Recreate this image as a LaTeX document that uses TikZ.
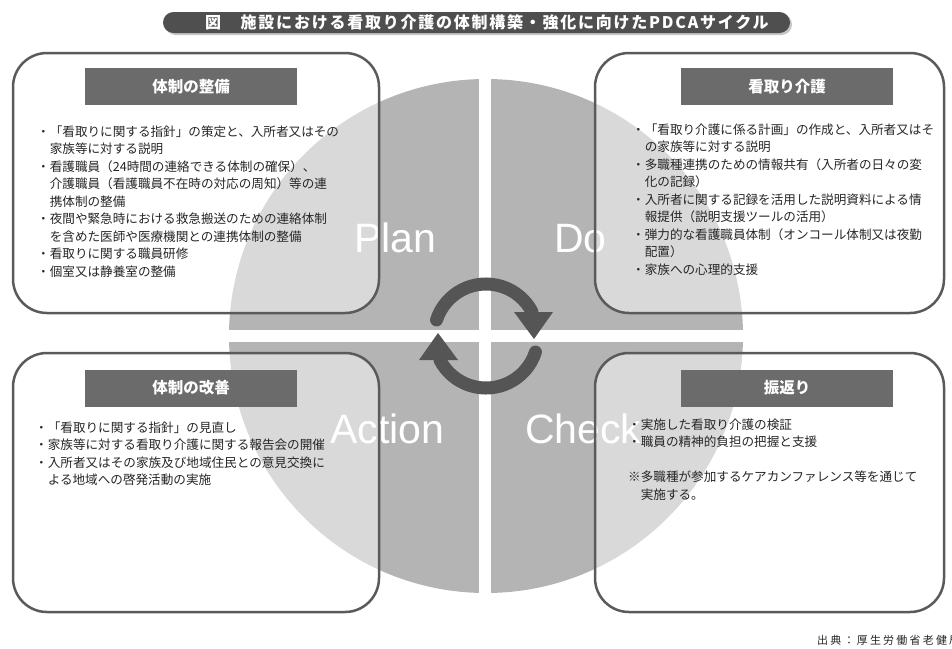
\documentclass[tikz,border=0pt]{standalone}
\usepackage{fontspec}
\usetikzlibrary{calc}
\setmainfont{Liberation Sans}
\newfontfamily\jp{Noto Sans CJK JP}
\newfontfamily\jptitle[LetterSpace=11]{Noto Sans CJK JP}
\newfontfamily\jpsrc[LetterSpace=20]{Noto Sans CJK JP}
\definecolor{circfill}{HTML}{B4B4B4}
\definecolor{boxline}{HTML}{5A5A5A}
\definecolor{headfill}{HTML}{6B6B6B}
\definecolor{arrowc}{HTML}{555555}
\definecolor{titlefill}{HTML}{4F4F4F}
\definecolor{bodytext}{HTML}{262626}
\tikzset{
  boxshape/.style={draw=boxline, line width=2.5pt, fill=white, fill opacity=0.5, rounded corners=34pt},
  header/.style={fill=headfill, text=white, font=\jp\bfseries\fontsize{15.5}{15.5}\selectfont, minimum width=212pt, minimum height=37pt, inner sep=0pt},
  body/.style={font=\jp\fontsize{12.6}{17.5}\selectfont, text=bodytext, align=left, inner sep=0pt, anchor=north west},
  pdca/.style={text=white, font=\fontsize{41}{41}\selectfont, inner sep=0pt, anchor=base west},
  cyc/.style={draw=arrowc, line width=13pt, line cap=round},
  cychead/.style={fill=arrowc},
}
\begin{document}
\begin{tikzpicture}[x=1pt,y=-1pt]
\useasboundingbox (0,0) rectangle (952,648);
% title
\fill[gray!45, rounded corners=10.5pt] (165,14) rectangle (792,35);
\fill[titlefill, rounded corners=10.5pt] (163,12) rectangle (790,33);
\node[anchor=west, inner sep=0pt, text=white, font=\jptitle\bfseries\fontsize{16}{16}\selectfont] (title) at (205,22.5) {図　施設における看取り介護の体制構築・強化に向けたPDCAサイクル};
% circle
\coordinate (C) at (486,336);
\fill[circfill] (C) circle[radius=257];
\fill[white] (479,60) rectangle (491,612);
\fill[white] (220,330) rectangle (752,342);
% PDCA labels
\node[pdca] (plan) at (354,252) {Plan};
\node[pdca] (do) at (554,252) {Do};
\node[pdca] (action) at (330,443) {Action};
\node[pdca] (check) at (525,443) {Check};
% boxes
\draw[boxshape] (13,53) rectangle (379,313);
\draw[boxshape] (595,53) rectangle (944,313);
\draw[boxshape] (13,353) rectangle (379,612);
\draw[boxshape] (595,353) rectangle (944,612);
% headers
\node[header] (h1) at (191,86.5) {体制の整備};
\node[header] (h2) at (787,86.5) {看取り介護};
\node[header] (h3) at (191,388) {体制の改善};
\node[header] (h4) at (787,388) {振返り};
% body texts
\node[body] (t1) at (37,125.5) {・「看取りに関する指針」の策定と、入所者又はその\\
　家族等に対する説明\\
・看護職員（24時間の連絡できる体制の確保）、\\
　介護職員（看護職員不在時の対応の周知）等の連\\
　携体制の整備\\
・夜間や緊急時における救急搬送のための連絡体制\\
　を含めた医師や医療機関との連携体制の整備\\
・看取りに関する職員研修\\
・個室又は静養室の整備};
\node[body] (t2) at (632,123.5) {・「看取り介護に係る計画」の作成と、入所者又はそ\\
　の家族等に対する説明\\
・多職種連携のための情報共有（入所者の日々の変\\
　化の記録）\\
・入所者に関する記録を活用した説明資料による情\\
　報提供（説明支援ツールの活用）\\
・弾力的な看護職員体制（オンコール体制又は夜勤\\
　配置）\\
・家族への心理的支援};
\node[body] (t3) at (35,421.5) {・「看取りに関する指針」の見直し\\
・家族等に対する看取り介護に関する報告会の開催\\
・入所者又はその家族及び地域住民との意見交換に\\
　よる地域への啓発活動の実施};
\node[body] (t4) at (628,418.5) {・実施した看取り介護の検証\\
・職員の精神的負担の把握と支援\\[17.5pt]
※多職種が参加するケアカンファレンス等を通じて\\
　実施する。};
% cycle arrows
\draw[cyc] ($(C)+(198:52)$) arc[start angle=198, end angle=332, radius=52];
\fill[cychead] (514,312) -- (553,312) -- (534,339) -- cycle;
\draw[cyc] ($(C)+(18:52)$) arc[start angle=18, end angle=152, radius=52];
\fill[cychead] (458,360) -- (419,360) -- (438,333) -- cycle;
% footer
\node[anchor=west, inner sep=0pt, text=bodytext, font=\jpsrc\fontsize{11}{11}\selectfont] (src) at (817,640) {出典：厚生労働省老健局};
\end{tikzpicture}
\end{document}
